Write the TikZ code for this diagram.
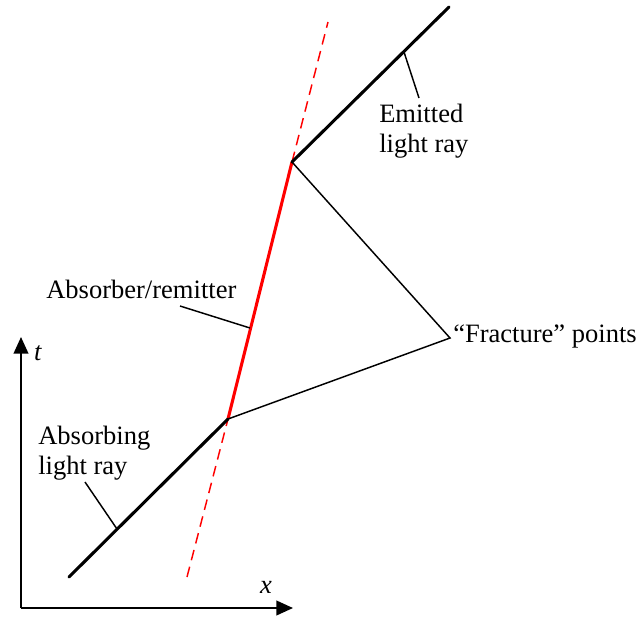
\documentclass[tikz,border=0pt]{standalone}
\usepackage{fontspec}
\setmainfont{Liberation Serif}
\usetikzlibrary{arrows.meta}
\usetikzlibrary{positioning}

\begin{document}
\begin{tikzpicture}[
		x=0.75pt,
		y=-0.75pt,
		ray/.style={line width=2.3pt, line cap=round},
		thin line/.style={line width=1.1pt},
		world line/.style={red, line width=2.3pt},
		world dash/.style={red, line width=1.1pt, dash pattern=on 8pt off 5pt},
		axis line/.style={line width=1.5pt, -{Triangle[length=12.5pt,width=11pt]}},
		label text/.style={font=\fontsize{19.9}{22.5}\selectfont, align=left, inner sep=0pt}
		]
		\useasboundingbox (0,0) rectangle (640,619);
		
		% axes
		\coordinate (o) at (21,608);
		\coordinate (tend) at (21,337);
		\coordinate (xend) at (293,608);
		\draw[axis line] (o) -- (tend);
		\draw[axis line] (o) -- (xend);
		\node[label text] (tlab) at (38,353) {\textit{t}};
		\node[label text] (xlab) at (266,587) {\textit{x}};
		
		% events
		\coordinate (a0) at (69,577);
		\coordinate (a1) at (228,419);
		\coordinate (e1) at (292,162);
		\coordinate (e2) at (449,7);
		\coordinate (d0) at (187,577);
		\coordinate (d1) at (328,22);
		\coordinate (fr) at (450,338);
		
		% absorber world line
		\draw[world dash] (d0) -- (a1);
		\draw[world dash] (e1) -- (d1);
		\draw[world line] (a1) -- (e1);
		
		% light rays
		\draw[ray] (a0) -- (a1);
		\draw[ray] (e1) -- (e2);
		
		% fracture points
		\draw[thin line] (e1) -- (fr) -- (a1);
		\node[label text, anchor=west] (frlab) at (453,336) {``Fracture'' points};
		
		% labels
		\node[label text, anchor=west] (emlab) at (379,131) {Emitted\\light ray};
		\node[label text, anchor=west] (ablab) at (38,453) {Absorbing\\light ray};
		\node[label text, anchor=west] (remlab) at (46,289) {Absorber/remitter};
		
		\coordinate (emfoot) at (419,98);
		\coordinate (emon) at (404,52);
		\coordinate (abfoot) at (85,482);
		\coordinate (abon) at (117,529);
		\coordinate (remfoot) at (180,306);
		\coordinate (remon) at (250,328);
		\draw[thin line] (emfoot) -- (emon);
		\draw[thin line] (abfoot) -- (abon);
		\draw[thin line] (remfoot) -- (remon);
	\end{tikzpicture}
\end{document}
